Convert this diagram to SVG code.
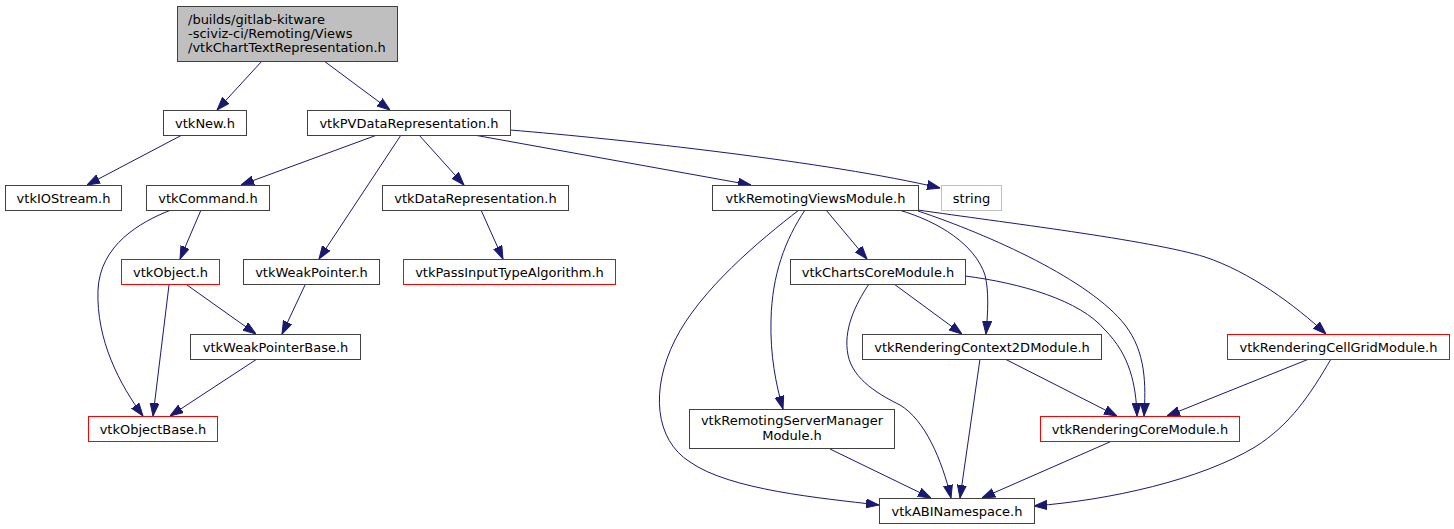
<svg xmlns="http://www.w3.org/2000/svg" width="1454" height="529" viewBox="0 0 1454 529">
<style>
.n rect{fill:#fff;stroke:#404040;stroke-width:1}
.n.r rect{stroke:#ff0000}
.n.g rect{stroke:#bfbfbf}
.n.top rect{fill:#bfbfbf}
.n text{font-family:"DejaVu Sans",sans-serif;font-size:13px;fill:#000;text-anchor:middle}
.n.top text{text-anchor:start}
.e path{fill:none;stroke:#191970;stroke-width:1;marker-end:url(#a)}
</style>
<defs>
<marker id="a" markerUnits="userSpaceOnUse" markerWidth="13" markerHeight="10" viewBox="0 0 13 10" refX="13" refY="5" orient="auto">
<path d="M0,0.5 L13,5 L0,9.5 z" fill="#191970" stroke="#191970" stroke-width="1"/>
</marker>
</defs>
<rect width="1454" height="529" fill="#fff"/>
<g class="e" id="edges">
<path d="M262,61 L217,110"/>
<path d="M324,61 L390,110"/>
<path d="M182,135 L87,185"/>
<path d="M377,135 L241,185"/>
<path d="M401,135 L319,259"/>
<path d="M419,135 L464,185"/>
<path d="M474,135 L751,185"/>
<path d="M510,130 C620,139 830,162 940,188"/>
<path d="M201,210 L180,259"/>
<path d="M171,210 C140,222 100,245 98,290 C96,340 120,385 143,416"/>
<path d="M169,285 L153,416"/>
<path d="M187,285 L256,334"/>
<path d="M305,285 L282,334"/>
<path d="M257,359 L170,416"/>
<path d="M481,210 L503,259"/>
<path d="M826,210 L867,259"/>
<path d="M805,210 C785,240 772,275 771,320 C770,355 776,385 783,409"/>
<path d="M799,210 C760,240 700,290 675,340 C650,390 655,440 690,462 C730,490 820,498 879,505"/>
<path d="M899,210 C940,222 975,245 985,275 C989,292 988,310 986,334"/>
<path d="M918,211 C990,235 1090,280 1125,325 C1146,352 1146,385 1144,416"/>
<path d="M918,210 C1000,222 1150,240 1205,257 C1250,272 1295,305 1326,334"/>
<path d="M894,284 L962,334"/>
<path d="M869,284 C855,305 843,330 848,355 C853,380 880,395 900,405 C925,420 942,460 951,498"/>
<path d="M965,276 C1020,283 1080,300 1105,330 C1130,355 1136,385 1137,416"/>
<path d="M980,359 L960,498"/>
<path d="M1005,359 L1117,416"/>
<path d="M830,449 L931,498"/>
<path d="M1112,441 L982,498"/>
<path d="M1309,359 L1167,416"/>
<path d="M1331,359 C1310,395 1290,425 1255,447 C1200,480 1110,500 1034,506"/>
</g>
<g class="n top" id="node_top"><rect x="177.5" y="6.5" width="220" height="55"/><text x="188" y="23.5">/builds/gitlab-kitware</text><text x="188" y="37.5">-sciviz-ci/Remoting/Views</text><text x="188" y="51.5">/vtkChartTextRepresentation.h</text></g>
<g class="n" id="node_vtkNew"><rect x="163.5" y="110.5" width="83" height="25"/><text x="205" y="127.5">vtkNew.h</text></g>
<g class="n" id="node_vtkPVDataRepresentation"><rect x="307.5" y="110.5" width="203" height="25"/><text x="409" y="127.5">vtkPVDataRepresentation.h</text></g>
<g class="n" id="node_vtkIOStream"><rect x="5.5" y="185.5" width="116" height="25"/><text x="63.5" y="202.5">vtkIOStream.h</text></g>
<g class="n" id="node_vtkCommand"><rect x="146.5" y="185.5" width="123" height="25"/><text x="208" y="202.5">vtkCommand.h</text></g>
<g class="n" id="node_vtkDataRepresentation"><rect x="382.5" y="185.5" width="186" height="25"/><text x="475.5" y="202.5">vtkDataRepresentation.h</text></g>
<g class="n" id="node_vtkRemotingViewsModule"><rect x="712.5" y="185.5" width="206" height="25"/><text x="815.5" y="202.5">vtkRemotingViewsModule.h</text></g>
<g class="n g" id="node_string"><rect x="941.5" y="185.5" width="60" height="25"/><text x="971.5" y="202.5">string</text></g>
<g class="n r" id="node_vtkObject"><rect x="121.5" y="259.5" width="98" height="25"/><text x="170.5" y="276.5">vtkObject.h</text></g>
<g class="n" id="node_vtkWeakPointer"><rect x="243.5" y="259.5" width="136" height="25"/><text x="311.5" y="276.5">vtkWeakPointer.h</text></g>
<g class="n r" id="node_vtkPassInputTypeAlgorithm"><rect x="403.5" y="259.5" width="212" height="25"/><text x="509.5" y="276.5">vtkPassInputTypeAlgorithm.h</text></g>
<g class="n" id="node_vtkChartsCoreModule"><rect x="790.5" y="259.5" width="175" height="25"/><text x="878" y="276.5">vtkChartsCoreModule.h</text></g>
<g class="n" id="node_vtkWeakPointerBase"><rect x="190.5" y="334.5" width="170" height="25"/><text x="275.5" y="351.5">vtkWeakPointerBase.h</text></g>
<g class="n" id="node_vtkRenderingContext2DModule"><rect x="862.5" y="334.5" width="239" height="25"/><text x="982" y="351.5">vtkRenderingContext2DModule.h</text></g>
<g class="n r" id="node_vtkRenderingCellGridModule"><rect x="1227.5" y="334.5" width="222" height="25"/><text x="1338.5" y="351.5">vtkRenderingCellGridModule.h</text></g>
<g class="n" id="node_vtkRemotingServerManagerModule"><rect x="689.5" y="409.5" width="205" height="39"/><text x="792" y="425">vtkRemotingServerManager</text><text x="792" y="439.5">Module.h</text></g>
<g class="n r" id="node_vtkObjectBase"><rect x="88.5" y="416.5" width="129" height="25"/><text x="153" y="433.5">vtkObjectBase.h</text></g>
<g class="n r" id="node_vtkRenderingCoreModule"><rect x="1040.5" y="416.5" width="199" height="25"/><text x="1140" y="433.5">vtkRenderingCoreModule.h</text></g>
<g class="n" id="node_vtkABINamespace"><rect x="879.5" y="498.5" width="155" height="25"/><text x="957" y="515.5">vtkABINamespace.h</text></g>
</svg>
